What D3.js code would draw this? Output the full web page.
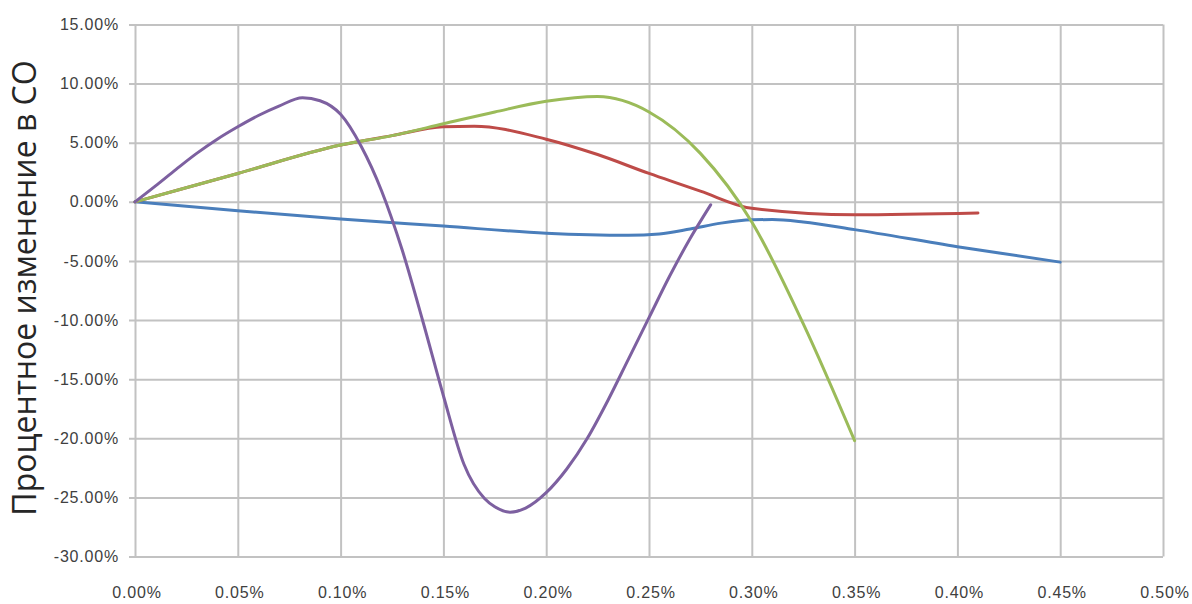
<!DOCTYPE html>
<html>
<head>
<meta charset="utf-8">
<script src="https://cdn.jsdelivr.net/npm/d3@7"></script>
<style>
  html, body { margin: 0; padding: 0; background: #ffffff; }
  svg { display: block; }
</style>
</head>
<body>
<svg id="chart" width="1192" height="604"></svg>
<script>
// Axis ticks (percent units)
const xTicks = [0, 0.05, 0.10, 0.15, 0.20, 0.25, 0.30, 0.35, 0.40, 0.45, 0.50];
const yTicks = [15, 10, 5, 0, -5, -10, -15, -20, -25, -30];

// Series 1 (blue)
const blueX = [0, 0.05, 0.10, 0.15, 0.20, 0.24, 0.255, 0.27, 0.285, 0.30, 0.31, 0.325, 0.35, 0.40, 0.45];
const blueY = [0, -0.75, -1.45, -2.05, -2.65, -2.82, -2.72, -2.3, -1.8, -1.52, -1.5, -1.7, -2.35, -3.8, -5.1];

// Series 2 (red)
const redX = [0, 0.05, 0.10, 0.125, 0.15, 0.165, 0.20, 0.225, 0.25, 0.275, 0.30, 0.35, 0.41];
const redY = [0, 2.4, 4.8, 5.6, 6.35, 6.4, 5.3, 4.0, 2.4, 0.9, -0.55, -1.1, -0.95];

// Series 3 (green)
const greenX = [0, 0.05, 0.10, 0.125, 0.15, 0.175, 0.20, 0.225, 0.25, 0.275, 0.30, 0.325, 0.35];
const greenY = [0, 2.4, 4.8, 5.6, 6.6, 7.6, 8.5, 8.9, 7.6, 4.1, -1.7, -10.3, -20.2];

// Series 4 (purple)
const purpleX = [0, 0.01, 0.02, 0.03, 0.04, 0.05, 0.06, 0.07, 0.0815, 0.09, 0.10, 0.11, 0.12, 0.13,
                 0.14, 0.15, 0.16, 0.17, 0.175, 0.1824, 0.19, 0.20, 0.21, 0.22, 0.23, 0.24, 0.25,
                 0.26, 0.27, 0.28];
const purpleY = [0, 1.35, 2.75, 4.1, 5.3, 6.35, 7.3, 8.1, 8.8, 8.55, 7.4, 4.7, 0.9, -4.1,
                 -10.1, -16.4, -22.2, -25.1, -25.8, -26.25, -25.9, -24.6, -22.6, -20.0, -16.8, -13.3, -9.8,
                 -6.3, -3.1, -0.25];

const series = [
  { xs: blueX,   ys: blueY,   color: "#4a7ebb" },
  { xs: redX,    ys: redY,    color: "#be4b48" },
  { xs: greenX,  ys: greenY,  color: "#9bbb59" },
  { xs: purpleX, ys: purpleY, color: "#7d60a0" }
];

const svg = d3.select("#chart");
const plot = { left: 135, right: 1163, top: 24.5, bottom: 556.5 };

const x = d3.scaleLinear().domain([0, 0.5]).range([plot.left, plot.right]);
const y = d3.scaleLinear().domain([-30, 15]).range([plot.bottom, plot.top]);

const tickFont = "'Liberation Sans', Arial, sans-serif";
const pct = d => d.toFixed(2) + "%";

// Horizontal gridlines, extended a little left of the plot as outer ticks
svg.append("g")
  .attr("transform", `translate(${plot.right},0)`)
  .call(g => {
    g.call(d3.axisLeft(y).tickValues(yTicks)
      .tickSize(plot.right - plot.left + 6).tickFormat(""));
    g.select(".domain").remove();
    g.selectAll(".tick line").attr("stroke", "#c2c2c2").attr("stroke-width", 2);
  });

// Vertical gridlines
svg.append("g")
  .attr("transform", `translate(0,${plot.bottom})`)
  .call(g => {
    g.call(d3.axisBottom(x).tickValues(xTicks)
      .tickSize(-(plot.bottom - plot.top)).tickFormat(""));
    g.select(".domain").remove();
    g.selectAll(".tick line").attr("stroke", "#c2c2c2").attr("stroke-width", 2);
  });

// Y tick labels
svg.append("g")
  .selectAll("text")
  .data(yTicks)
  .join("text")
  .attr("x", 119)
  .attr("y", d => y(d))
  .attr("dy", "0.35em")
  .attr("text-anchor", "end")
  .attr("font-family", tickFont)
  .attr("font-size", 16)
  .attr("letter-spacing", "0.8px")
  .attr("fill", "#404040")
  .text(pct);

// X tick labels
svg.append("g")
  .selectAll("text")
  .data(xTicks)
  .join("text")
  .attr("x", d => x(d) + 2)
  .attr("y", 598)
  .attr("text-anchor", "middle")
  .attr("font-family", tickFont)
  .attr("font-size", 16)
  .attr("letter-spacing", "0.8px")
  .attr("fill", "#404040")
  .text(pct);

// Y axis title
svg.append("text")
  .attr("transform", "translate(36,288) rotate(-90)")
  .attr("text-anchor", "middle")
  .attr("font-family", "'Open Sans', 'Noto Sans', sans-serif")
  .attr("font-size", 32)
  .attr("fill", "#262626")
  .text("Процентное изменение в СО");

// Smoothed series lines
const line = d3.line()
  .x(d => x(d[0]))
  .y(d => y(d[1]))
  .curve(d3.curveMonotoneX);

svg.append("g")
  .selectAll("path")
  .data(series)
  .join("path")
  .attr("d", s => line(s.xs.map((v, i) => [v, s.ys[i]])))
  .attr("fill", "none")
  .attr("stroke", s => s.color)
  .attr("stroke-width", 3)
  .attr("stroke-linejoin", "round")
  .attr("stroke-linecap", "round");
</script>
</body>
</html>
